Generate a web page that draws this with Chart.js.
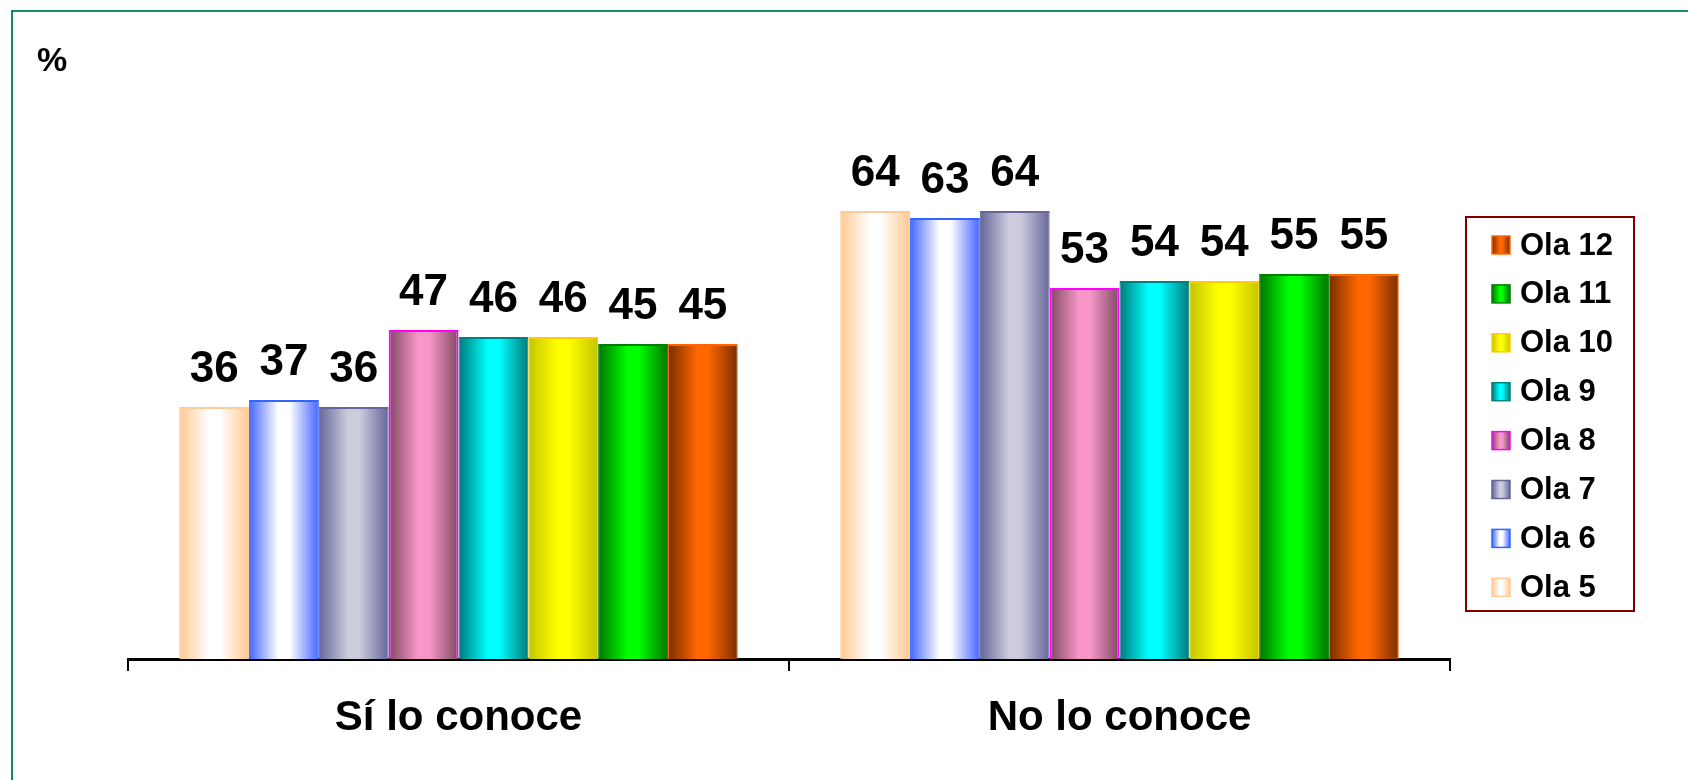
<!DOCTYPE html>
<html>
<head>
<meta charset="utf-8">
<script src="https://cdn.jsdelivr.net/npm/chart.js@4/dist/chart.umd.min.js"></script>
<style>
  body { margin: 0; background: #fff; }
  canvas { display: block; }
</style>
</head>
<body>
<canvas id="myChart" width="1688" height="780"></canvas>
<script>
// datos
var categorias = ['Sí lo conoce', 'No lo conoce'];
var olas = ['Ola 5', 'Ola 6', 'Ola 7', 'Ola 8', 'Ola 9', 'Ola 10', 'Ola 11', 'Ola 12'];
var ola5 = [36, 64];
var ola6 = [37, 63];
var ola7 = [36, 64];
var ola8 = [47, 53];
var ola9 = [46, 54];
var ola10 = [46, 54];
var ola11 = [45, 55];
var ola12 = [45, 55];
var unidad = '%';

// colores: borde oscuro, centro claro, linea
var colores = [
  ['#ffc890', '#ffffff', '#ffcc99'],
  ['#4466ff', '#ffffff', '#3366ff'],
  ['#66669a', '#ccccdd', '#666699'],
  ['#7e4a62', '#f896c8', '#ff00ff'],
  ['#007a7a', '#00ffff', '#008080'],
  ['#c4c400', '#ffff00', '#ffcc00'],
  ['#007400', '#00ff00', '#008000'],
  ['#7a2e00', '#ff6600', '#ff6600']
];
var valores = [ola5, ola6, ola7, ola8, ola9, ola10, ola11, ola12];
var fuente = "'Liberation Sans', Arial, sans-serif";

function degradado(ctx, x0, x1, c) {
  var g = ctx.createLinearGradient(x0, 0, x1, 0);
  g.addColorStop(0, c[0]);
  g.addColorStop(0.42, c[1]);
  g.addColorStop(0.58, c[1]);
  g.addColorStop(1, c[0]);
  return g;
}

var datasets = [];
for (let i = 0; i < olas.length; i++) {
  datasets.push({
    label: olas[i],
    data: valores[i],
    backgroundColor: colores[i][1],
    borderColor: colores[i][2],
    borderWidth: {top: 2, left: i == 3 ? 2 : 1, right: i == 3 ? 2 : 1, bottom: 0},
    borderSkipped: 'bottom'
  });
}

const extras = {
  id: 'extras',
  beforeDraw(chart) {
    const ctx = chart.ctx;
    ctx.save();
    ctx.fillStyle = '#fff';
    ctx.fillRect(0, 0, chart.width, chart.height);
    ctx.strokeStyle = '#138a66';
    ctx.lineWidth = 2;
    ctx.beginPath();
    ctx.moveTo(12, 780);
    ctx.lineTo(12, 11);
    ctx.lineTo(1688, 11);
    ctx.stroke();
    ctx.fillStyle = '#000';
    ctx.font = 'bold 34px ' + fuente;
    ctx.textBaseline = 'alphabetic';
    ctx.fillText(unidad, 37, 71);
    ctx.restore();
  },
  beforeDatasetsDraw(chart) {
    const ctx = chart.ctx;
    chart.data.datasets.forEach(function(ds, i) {
      chart.getDatasetMeta(i).data.forEach(function(bar) {
        var x0 = bar.x - bar.width / 2;
        var x1 = bar.x + bar.width / 2;
        bar.options = Object.assign({}, bar.options, {backgroundColor: degradado(ctx, x0, x1, colores[i])});
      });
    });
  },
  afterDatasetsDraw(chart) {
    const ctx = chart.ctx;
    ctx.save();
    ctx.fillStyle = '#000';
    ctx.font = 'bold 44px ' + fuente;
    ctx.textAlign = 'center';
    ctx.textBaseline = 'alphabetic';
    chart.data.datasets.forEach(function(ds, i) {
      chart.getDatasetMeta(i).data.forEach(function(bar, j) {
        ctx.fillText(String(ds.data[j]), bar.x, bar.y - 25);
      });
    });
    // leyenda
    ctx.strokeStyle = '#800000';
    ctx.lineWidth = 2;
    ctx.strokeRect(1466, 217, 168, 394);
    ctx.font = 'bold 31px ' + fuente;
    ctx.textAlign = 'left';
    ctx.textBaseline = 'middle';
    var n = chart.data.datasets.length;
    for (let k = 0; k < n; k++) {
      var i = n - 1 - k;
      var y = 245 + k * 48.9;
      ctx.fillStyle = degradado(ctx, 1492, 1510, colores[i]);
      ctx.fillRect(1492, y - 9, 18, 18);
      ctx.strokeStyle = colores[i][2];
      ctx.lineWidth = 1.5;
      ctx.strokeRect(1492, y - 9, 18, 18);
      ctx.fillStyle = '#000';
      ctx.fillText(chart.data.datasets[i].label, 1520, y + 1);
    }
    ctx.restore();
  }
};

const config = {
  type: 'bar',
  data: {
    labels: categorias,
    datasets: datasets
  },
  options: {
    responsive: false,
    animation: false,
    layout: {
      padding: {left: 128, right: 238, top: 29, bottom: 0}
    },
    categoryPercentage: 0.845,
    barPercentage: 1.0,
    scales: {
      y: {
        display: false,
        min: 0,
        max: 90
      },
      x: {
        offset: true,
        grid: {
          offset: true,
          drawOnChartArea: false,
          drawTicks: true,
          tickLength: 12,
          color: '#000',
          lineWidth: 2
        },
        border: {color: '#000', width: 3},
        ticks: {
          color: '#000',
          padding: 22,
          font: {size: 42, weight: 'bold', family: fuente}
        },
        afterFit: function(s) { s.height = 121; }
      }
    },
    plugins: {
      legend: {display: false},
      tooltip: {enabled: false}
    }
  },
  plugins: [extras]
};

const myChart = new Chart(document.getElementById('myChart'), config);
</script>
</body>
</html>
